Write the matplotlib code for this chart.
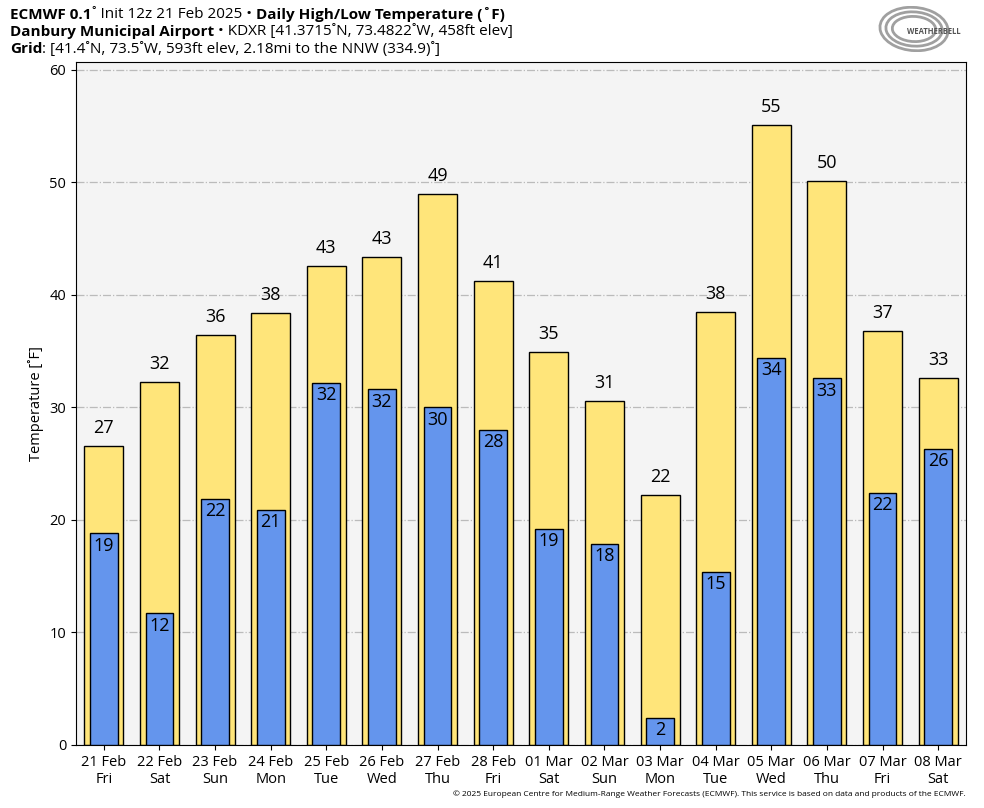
import matplotlib
matplotlib.use("Agg")
import matplotlib.pyplot as plt
import numpy as np
from matplotlib.patches import Ellipse

plt.rcParams["font.family"] = ["Open Sans", "DejaVu Sans"]

# data
dates = ["21 Feb", "22 Feb", "23 Feb", "24 Feb", "25 Feb", "26 Feb", "27 Feb", "28 Feb",
         "01 Mar", "02 Mar", "03 Mar", "04 Mar", "05 Mar", "06 Mar", "07 Mar", "08 Mar"]
weekdays = ["Fri", "Sat", "Sun", "Mon", "Tue", "Wed", "Thu", "Fri",
            "Sat", "Sun", "Mon", "Tue", "Wed", "Thu", "Fri", "Sat"]
highs = [26.6, 32.3, 36.4, 38.4, 42.6, 43.4, 49.0, 41.2,
         34.9, 30.6, 22.2, 38.5, 55.1, 50.1, 36.8, 32.6]
lows = [18.8, 11.7, 21.9, 20.9, 32.2, 31.6, 30.0, 28.0,
        19.2, 17.9, 2.4, 15.4, 34.4, 32.6, 22.4, 26.3]

title_lines = [
    [("ECMWF 0.1", "bold"), ("\u02da Init 12z 21 Feb 2025 \u2022 ", "normal"),
     ("Daily High/Low Temperature (\u02daF)", "bold")],
    [("Danbury Municipal Airport", "bold"),
     (" \u2022 KDXR [41.3715\u02daN, 73.4822\u02daW, 458ft elev]", "normal")],
    [("Grid", "bold"), (": [41.4\u02daN, 73.5\u02daW, 593ft elev, 2.18mi to the NNW (334.9)\u02da]", "normal")],
]

high_color = "#ffe57a"
low_color = "#6495ed"

fig = plt.figure(figsize=(9.84, 8.08), dpi=100)
ax = fig.add_axes([76 / 984, 1 - 745 / 808, 890 / 984, 683 / 808])
ax.set_facecolor("#f4f4f4")

x = np.arange(len(dates))
ax.bar(x, highs, width=0.7, color=high_color, edgecolor="black", linewidth=1.0, zorder=2)
ax.bar(x, lows, width=0.5, color=low_color, edgecolor="black", linewidth=1.0, zorder=3)

for xi, h in zip(x, highs):
    ax.text(xi, h + 0.8, f"{round(h)}", ha="center", va="bottom", fontsize=13, zorder=4)
for xi, lo in zip(x, lows):
    ax.text(xi, lo - 0.3, f"{round(lo)}", ha="center", va="top", fontsize=13, zorder=4)

ax.set_xlim(-0.5, len(dates) - 0.5)
ax.set_ylim(0, 60.7)
ax.set_yticks(range(0, 61, 10))
ax.set_xticks(x)
ax.set_xticklabels([f"{d}\n{w}" for d, w in zip(dates, weekdays)], fontsize=10.5)
ax.tick_params(axis="y", labelsize=10.5)
ax.set_ylabel("Temperature [\u02daF]", fontsize=10.5)
ax.grid(axis="y", color="#bbbbbb", linestyle="-.", linewidth=0.9, zorder=0)
ax.set_axisbelow(True)

# title block: pieces placed one after another
renderer = fig.canvas.get_renderer()
for i, pieces in enumerate(title_lines):
    xpos = 10
    ypix = 15 + 17 * i
    for txt, weight in pieces:
        t = fig.text(xpos / 984, 1 - ypix / 808, txt, fontsize=11, fontweight=weight,
                     va="center", ha="left")
        xpos += t.get_window_extent(renderer).width

fig.text(966 / 984, 1 - 794 / 808,
         "\u00a9 2025 European Centre for Medium-Range Weather Forecasts (ECMWF). "
         "This service is based on data and products of the ECMWF.",
         fontsize=6, ha="right", va="center")

# rough stand-in for the logo
logo = fig.add_axes([878 / 984, 1 - 52 / 808, 90 / 984, 46 / 808])
logo.axis("off")
logo.set_xlim(0, 1)
logo.set_ylim(0, 1)
for w, hgt in [(0.75, 0.95), (0.62, 0.75), (0.48, 0.55)]:
    logo.add_patch(Ellipse((0.4, 0.5), w, hgt, angle=10, fill=False,
                           edgecolor="#a0a0a0", linewidth=2.0))
logo.text(0.62, 0.45, "WEATHERBELL", fontsize=5.5, color="#555555", ha="center",
          va="center", fontweight="bold")

fig.savefig("out.png", dpi=100)
